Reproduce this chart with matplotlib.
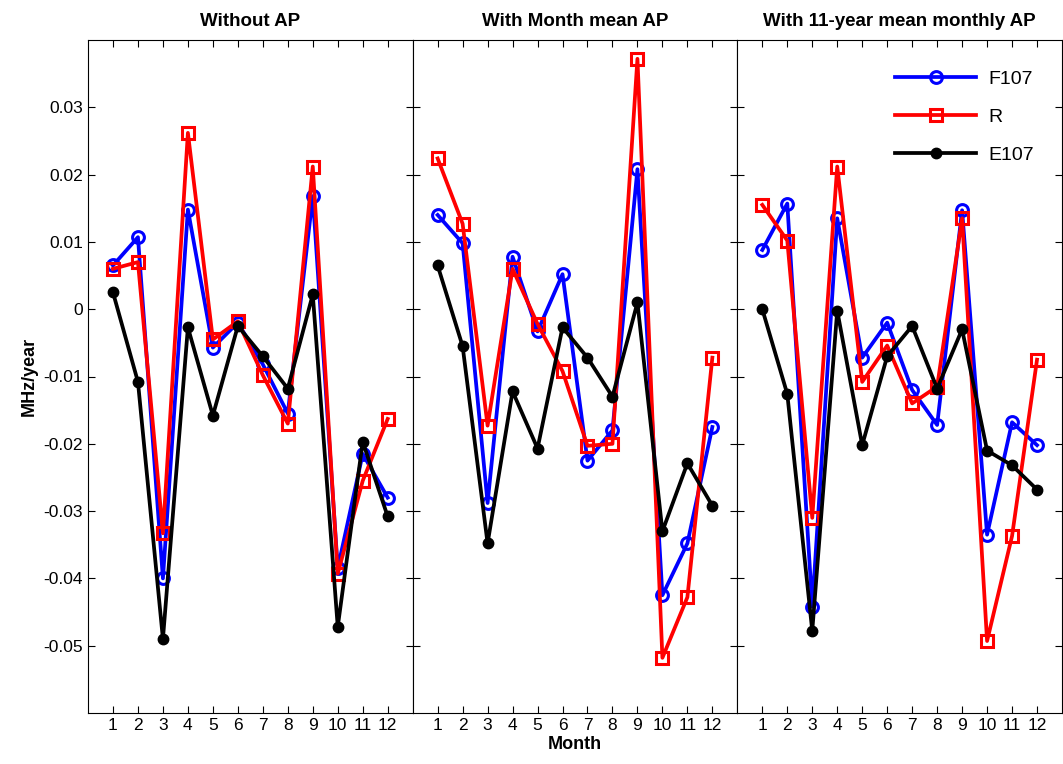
import matplotlib
matplotlib.use("Agg")
import matplotlib.pyplot as plt
import numpy as np

plt.rcParams['font.family'] = ['Liberation Sans', 'DejaVu Sans']

months = list(range(1, 13))
titles = ["Without AP", "With Month mean AP", "With 11-year mean monthly AP"]

f107_a = [0.0065, 0.0107, -0.0400, 0.0148, -0.0057, -0.0020, -0.0082, -0.0155, 0.0168, -0.0385, -0.0215, -0.0280]
r_a = [0.0060, 0.0070, -0.0333, 0.0262, -0.0045, -0.0018, -0.0098, -0.0170, 0.0212, -0.0393, -0.0255, -0.0163]
e107_a = [0.0025, -0.0108, -0.0490, -0.0027, -0.0158, -0.0025, -0.0070, -0.0118, 0.0022, -0.0472, -0.0197, -0.0308]

f107_b = [0.0140, 0.0098, -0.0288, 0.0078, -0.0033, 0.0052, -0.0225, -0.0180, 0.0208, -0.0425, -0.0348, -0.0175]
r_b = [0.0224, 0.0127, -0.0173, 0.0060, -0.0022, -0.0092, -0.0203, -0.0200, 0.0372, -0.0518, -0.0428, -0.0072]
e107_b = [0.0065, -0.0055, -0.0348, -0.0122, -0.0207, -0.0027, -0.0072, -0.0130, 0.0010, -0.0330, -0.0229, -0.0292]

f107_c = [0.0088, 0.0157, -0.0442, 0.0135, -0.0072, -0.0020, -0.0120, -0.0172, 0.0147, -0.0335, -0.0168, -0.0202]
r_c = [0.0155, 0.0102, -0.0310, 0.0212, -0.0108, -0.0054, -0.0140, -0.0115, 0.0135, -0.0493, -0.0337, -0.0075]
e107_c = [0.0000, -0.0126, -0.0478, -0.0002, -0.0202, -0.0070, -0.0025, -0.0118, -0.0030, -0.0210, -0.0232, -0.0268]

panels = [(f107_a, r_a, e107_a), (f107_b, r_b, e107_b), (f107_c, r_c, e107_c)]

fig = plt.figure(figsize=(10.63, 7.64), dpi=100)
left = 88 / 1063
right = 1062 / 1063
w = (right - left) / 3
bottom = 1 - 713 / 764
top = 1 - 40 / 764
lw = 2.7
axes = []
for i, (f, r, e) in enumerate(panels):
    ax = fig.add_axes([left + i * w, bottom, w, top - bottom])
    axes.append(ax)
    ax.plot(months, f, color='#0000ff', lw=lw, marker='o', ms=8.5, mfc='none', mec='#0000ff', mew=2.2, label='F107')
    ax.plot(months, r, color='#ff0000', lw=lw, marker='s', ms=8, mfc='none', mec='#ff0000', mew=2.2, label='R')
    ax.plot(months, e, color='black', lw=lw, marker='o', ms=7.5, mfc='black', mec='black', label='E107')
    ax.set_xlim(0, 13)
    ax.set_ylim(-0.06, 0.04)
    ax.set_xticks(months)
    ax.set_yticks([-0.05, -0.04, -0.03, -0.02, -0.01, 0, 0.01, 0.02, 0.03])
    ax.tick_params(direction='in', top=True, right=True, length=5, width=0.8, labelsize=12.5)
    ax.set_title(titles[i], fontsize=13.5, fontweight='bold', pad=10)
    for s in ax.spines.values():
        s.set_linewidth(0.8)
    if i == 0:
        ax.set_yticklabels(['-0.05', '-0.04', '-0.03', '-0.02', '-0.01', '0', '0.01', '0.02', '0.03'])
        ax.set_ylabel('MHz/year', fontsize=13, fontweight='bold')
    else:
        ax.set_yticklabels([])
    if i == 1:
        ax.set_xlabel('Month', fontsize=13, fontweight='bold', labelpad=2)

leg = axes[2].legend(loc='upper right', frameon=False, fontsize=14, handlelength=4.2,
                     labelspacing=1.05, handletextpad=0.6,
                     bbox_to_anchor=(0.955, 0.975), borderaxespad=0.3)

fig.savefig('out.png', dpi=100)
